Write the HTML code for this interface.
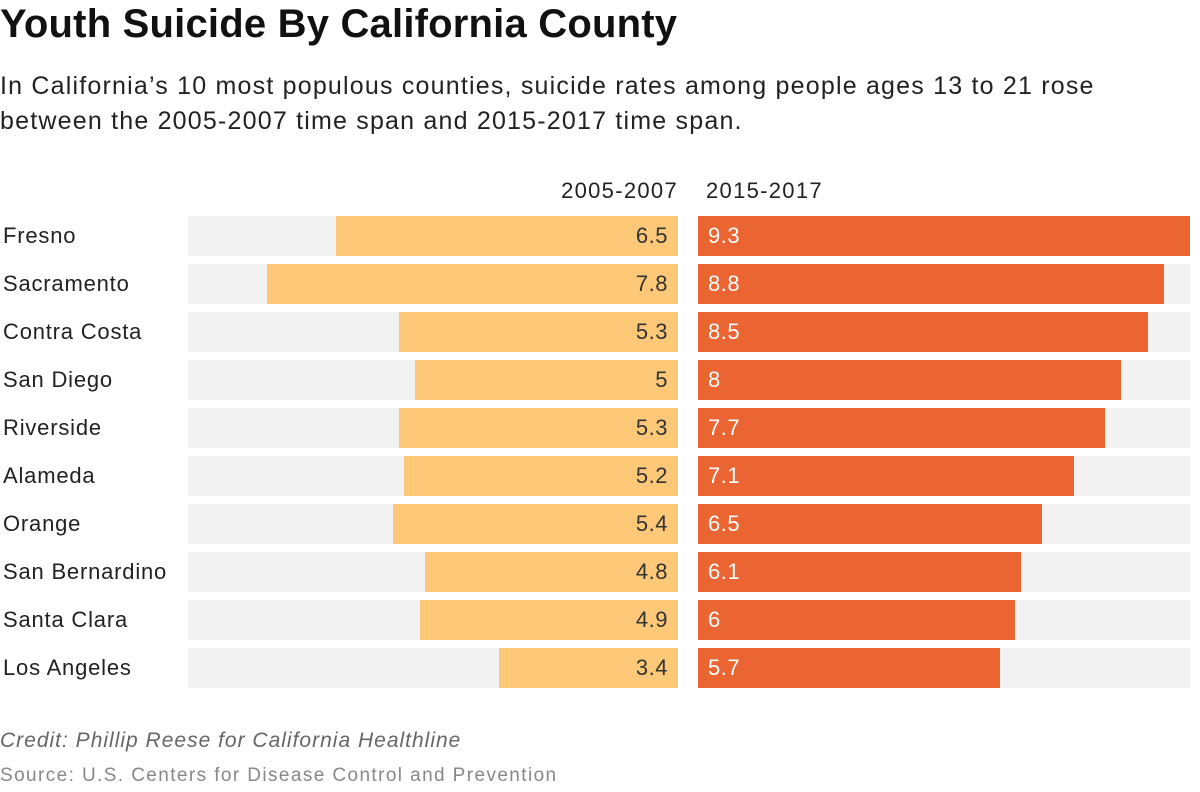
<!DOCTYPE html>
<html><head><meta charset="utf-8"><style>
body{margin:0;width:1200px;height:792px;background:#fff;font-family:"Liberation Sans",sans-serif;overflow:hidden;position:relative}
.t{position:absolute;white-space:nowrap}
</style></head><body>
<div class="t" style="left:0;top:2px;font-size:40px;font-weight:bold;color:#111;letter-spacing:0.2px">Youth Suicide By California County</div>
<div class="t" style="left:0;top:69px;font-size:25px;line-height:35px;color:#222;letter-spacing:1.2px">In California’s 10 most populous counties, suicide rates among people ages 13 to 21 rose<br>between the 2005-2007 time span and 2015-2017 time span.</div>
<div class="t" style="right:522px;top:178px;font-size:22px;color:#222;letter-spacing:1.3px">2005-2007</div>
<div class="t" style="left:706px;top:178px;font-size:22px;color:#222;letter-spacing:1.3px">2015-2017</div>
<div id="chart"></div>
<div class="t" style="left:0;top:729px;font-size:21px;font-style:italic;color:#666;letter-spacing:1px">Credit: Phillip Reese for California Healthline</div>
<div class="t" style="left:0;top:765px;font-size:19px;color:#888;letter-spacing:1.4px">Source: U.S. Centers for Disease Control and Prevention</div>
<script>
const counties=["Fresno","Sacramento","Contra Costa","San Diego","Riverside","Alameda","Orange","San Bernardino","Santa Clara","Los Angeles"];
const v2005=[6.5,7.8,5.3,5,5.3,5.2,5.4,4.8,4.9,3.4];
const v2015=[9.3,8.8,8.5,8,7.7,7.1,6.5,6.1,6,5.7];
const maxV=9.3;
const c=document.getElementById('chart');
const L0=188,L1=678,R0=698,R1=1190;
const sL=v=>v/maxV*(L1-L0), sR=v=>v/maxV*(R1-R0);
function mk(style,text){const d=document.createElement('div');d.className='t';d.style.cssText=style;if(text!==undefined)d.textContent=text;c.appendChild(d);return d;}
counties.forEach((n,i)=>{
 const y=216+i*48;
 let e=mk(`left:3px;top:${y+7}px;font-size:22px;color:#222;letter-spacing:0.8px`,n);
 
 
 e=mk(`left:${L0}px;top:${y}px;width:${L1-L0}px;height:40px;background:#f2f2f2`);
 
 
 e=mk(`left:${L1-sL(v2005[i])}px;top:${y}px;width:${sL(v2005[i])}px;height:40px;background:#fdc877`);
 
 
 e=mk(`right:${1200-668}px;top:${y+7}px;font-size:22px;color:#333;letter-spacing:0.5px`,String(v2005[i]));
 
 
 e=mk(`left:${R0}px;top:${y}px;width:${R1-R0}px;height:40px;background:#f2f2f2`);
 
 
 e=mk(`left:${R0}px;top:${y}px;width:${sR(v2015[i])}px;height:40px;background:#ea6532`);
 
 
 e=mk(`left:708px;top:${y+7}px;font-size:22px;color:#fff;letter-spacing:0.5px`,String(v2015[i]));
 
 
});
</script>
</body></html>
